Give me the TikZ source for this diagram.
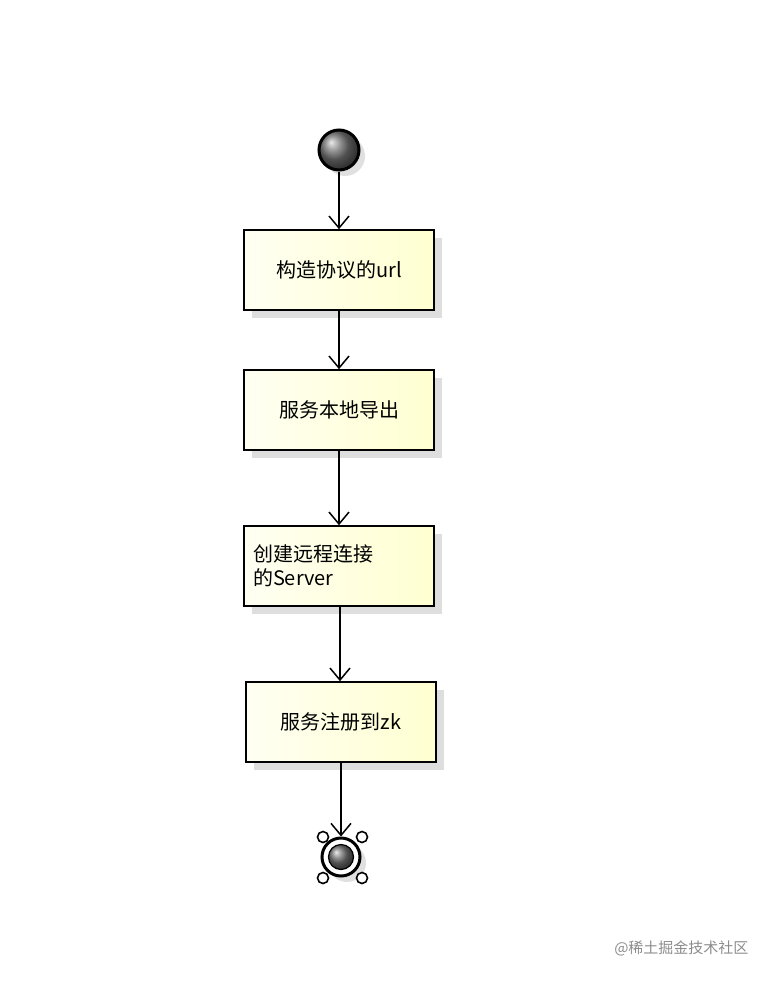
\documentclass[tikz,border=0pt]{standalone}
\usepackage{fontspec}
\newfontfamily\cjk{Noto Sans CJK SC}
\usetikzlibrary{arrows.meta,shadings,calc}
\begin{document}
\begin{tikzpicture}[x=1pt,y=-1pt,
 act/.style={draw=black,line width=1.6pt,minimum width=190pt,minimum height=80pt,inner sep=0pt,
   left color=yellow!5!white,right color=yellow!18!white,font=\cjk\fontsize{20}{24}\selectfont},
 flow/.style={line width=1.5pt,-{Straight Barb[length=12pt,width=20pt,line width=1.5pt]}},
 shad/.style={fill=black!13,draw=none}]
\useasboundingbox (0,0) rectangle (776,982);
% shadows
\foreach \x/\y in {244/230,244/370,244/526,246/682}{\fill[shad] (\x+8,\y+8) rectangle (\x+198,\y+88);}
\fill[black!12] (345,156) circle (20);
\fill[black!12] (347,863) circle (19);
% start
\node[circle,draw,line width=3pt,minimum size=40pt,inner sep=0pt,ball color=black!55] (s) at (339,150) {};
\node[act] (a) at (339,270) {构造协议的url};
\node[act] (b) at (339,410) {服务本地导出};
\node[act,align=left,text width=172pt] (c) at (339,566) {创建远程连接\\的Server};
\node[act] (d) at (341,722) {服务注册到zk};
% end
\foreach \x/\y in {323/837,362/837,323/878,362/878}{\draw[line width=1.6pt,fill=white] (\x,\y) circle (5.5);}
\node[circle,draw,line width=3pt,fill=white,minimum size=38pt,inner sep=0pt] (e) at (341,857) {};
\fill[ball color=black!55] (341,857) circle (12.5);
\draw[line width=1.2pt] (341,857) circle (12.5);
\draw[flow] (s) -- (a);
\draw[flow] (a) -- (b);
\draw[flow] (b) -- (c);
\draw[flow] ($(c.south)+(1,0)$) -- ($(d.north)+(-1,0)$);
\draw[flow] (d) -- (e);
\node[font=\cjk\fontsize{15}{18}\selectfont,text=black!45,anchor=east] (w) at (752,948) {@稀土掘金技术社区};
\end{tikzpicture}
\end{document}
